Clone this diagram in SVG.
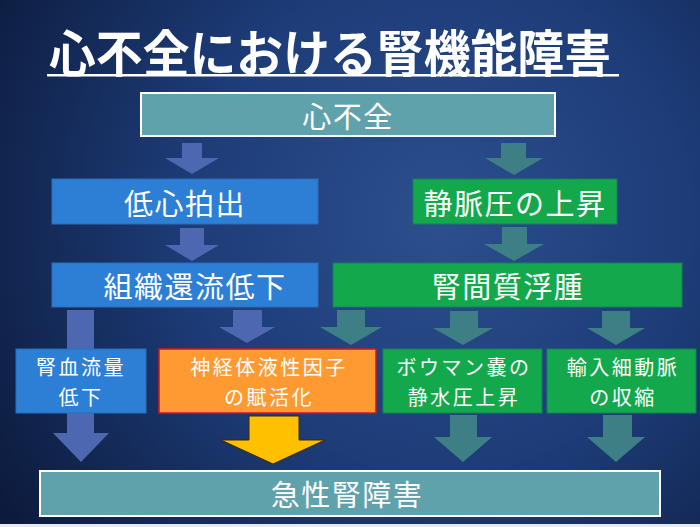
<svg xmlns="http://www.w3.org/2000/svg" width="700" height="527" viewBox="0 0 700 527">
<defs>
<radialGradient id="bg" cx="440" cy="220" r="560" gradientUnits="userSpaceOnUse">
<stop offset="0" stop-color="#2c4f8e"/>
<stop offset="0.45" stop-color="#1d3c78"/>
<stop offset="1" stop-color="#0a1634"/>
</radialGradient>
<style>
.t{font-family:"Noto Sans CJK JP","Noto Sans CJK SC",sans-serif;fill:#fff;text-anchor:middle;dominant-baseline:central}
.big{font-size:29px;letter-spacing:1.5px}
.sm{font-size:20px;letter-spacing:2.5px}
.teal{fill:#5fa2ac;stroke:#fff;stroke-width:2}
.blue{fill:#2d7fd6;stroke:#2a6fb8;stroke-width:1}
.green{fill:#13a84c;stroke:#1a7f5a;stroke-width:1}
.orange{fill:#ff9a33;stroke:#c8182a;stroke-width:1.5}
.ab{fill:#4d68b0}
.at{fill:#3e7f86}
.ay{fill:#ffc000;stroke:#3a2a00;stroke-width:1}
</style>
</defs>
<rect width="700" height="527" fill="url(#bg)"/>
<rect y="524" width="700" height="3" fill="#e6eaf0"/>
<g id="title">
<text class="t" x="330" y="50" font-size="50" font-weight="bold" textLength="562" lengthAdjust="spacingAndGlyphs">心不全における腎機能障害</text>
<rect x="47" y="74" width="572" height="2.5" fill="#fff"/>
</g>
<g id="connectors">
<polygon class="ab" points="182,143 202,143 202,158 219,158 192,174 165,158 182,158"/>
<polygon class="at" points="501,143 526,143 526,158 543,158 514,175 485,158 501,158"/>
<polygon class="ab" points="180,228 204,228 204,245 219,245 192,261 165,245 180,245"/>
<polygon class="at" points="502,227 527,227 527,244 544,244 514,261 484,244 502,244"/>
<polygon class="ab" points="67,310 94,310 94,433 109,433 81,462 53,433 67,433"/>
<polygon class="ab" points="233,310 262,310 262,327 275,327 247,343 219,327 233,327"/>
<polygon class="at" points="337,310 365,310 365,327 382,327 351,345 320,327 337,327"/>
<polygon class="at" points="450,311 478,311 478,328 493,328 463,345 433,328 450,328"/>
<polygon class="at" points="602,311 630,311 630,328 645,328 616,345 587,328 602,328"/>
<polygon class="ay" points="249,416 299,416 299,440 325,440 273,464 221,440 249,440"/>
<polygon class="at" points="450,415 477,415 477,437 492,437 463,462 434,437 450,437"/>
<polygon class="at" points="603,415 632,415 632,437 645,437 616,462 587,437 603,437"/>
</g>
<g id="n_heart">
<rect class="teal" x="141" y="93" width="414" height="43"/>
<text class="t big" x="348" y="115">心不全</text>
</g>
<g id="n_lowco">
<rect class="blue" x="52" y="179" width="266" height="45"/>
<text class="t big" x="185" y="202">低心拍出</text>
</g>
<g id="n_venous">
<rect class="green" x="413" y="179" width="204" height="45"/>
<text class="t big" x="515" y="202">静脈圧の上昇</text>
</g>
<g id="n_perfusion">
<rect class="blue" x="52" y="263" width="266" height="44"/>
<text class="t big" x="195" y="285">組織還流低下</text>
</g>
<g id="n_edema">
<rect class="green" x="333" y="263" width="349" height="44"/>
<text class="t big" x="508" y="285">腎間質浮腫</text>
</g>
<g id="n_rbf">
<rect class="blue" x="16" y="349" width="130" height="64"/>
<text class="t sm"><tspan x="81" y="366">腎血流量</tspan><tspan x="81" y="396">低下</tspan></text>
</g>
<g id="n_neuro">
<rect class="orange" x="159" y="349" width="217" height="64"/>
<text class="t sm"><tspan x="269" y="366">神経体液性因子</tspan><tspan x="269" y="396">の賦活化</tspan></text>
</g>
<g id="n_bowman">
<rect class="green" x="383" y="349" width="159" height="64"/>
<text class="t sm"><tspan x="464" y="366">ボウマン嚢の</tspan><tspan x="464" y="396">静水圧上昇</tspan></text>
</g>
<g id="n_afferent">
<rect class="green" x="547" y="349" width="149" height="64"/>
<text class="t sm"><tspan x="623" y="366">輸入細動脈</tspan><tspan x="623" y="396">の収縮</tspan></text>
</g>
<g id="n_aki">
<rect class="teal" x="40" y="471" width="620" height="45"/>
<text class="t big" x="347" y="493">急性腎障害</text>
</g>
</svg>
